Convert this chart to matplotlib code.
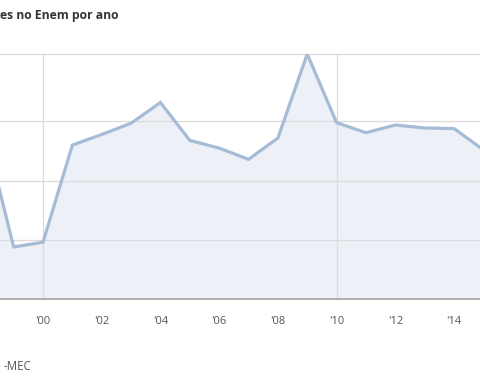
import matplotlib
matplotlib.use('Agg')
import matplotlib.pyplot as plt

years = [1998, 1999, 2000, 2001, 2002, 2003, 2004, 2005, 2006, 2007,
         2008, 2009, 2010, 2011, 2012, 2013, 2014, 2015]
values = [28.8, 8.8, 9.6, 26.0, 27.8, 29.7, 33.2, 26.8, 25.5, 23.6,
          27.2, 41.4, 29.8, 28.1, 29.4, 28.9, 28.8, 25.2]
tick_years = [2000, 2002, 2004, 2006, 2008, 2010, 2012, 2014]
tick_labels = ["'00", "'02", "'04", "'06", "'08", "'10", "'12", "'14"]

plt.rcParams['font.family'] = ['Open Sans', 'DejaVu Sans']

fig = plt.figure(figsize=(4.8, 3.83), dpi=100)
# plot area runs past the left and right edges of the picture
ax = fig.add_axes([0, 84/383, 1, 245/383])

ax.fill_between(years, values, 0, color='#edf0f6', zorder=1)
ax.plot(years, values, color='#a6bcd6', lw=2.3, zorder=3, solid_joinstyle='miter')

ax.set_xlim(2000 - 43/29.36, 2000 + 437/29.36)
ax.set_ylim(0, max(values))

for v in [10, 20, 30]:
    ax.axhline(v, color='#dcdcdc', lw=0.9, zorder=2)
for yr in [2000, 2010]:
    ax.axvline(yr, color='#dcdcdc', lw=0.9, zorder=2)

for s in ['left', 'right', 'bottom']:
    ax.spines[s].set_visible(False)
ax.spines['top'].set_color('#dcdcdc')
ax.spines['top'].set_linewidth(0.9)
ax.axhline(0, color='#a8a8a8', lw=1.3, zorder=4, clip_on=False)

ax.set_xticks(tick_years)
ax.set_xticklabels(tick_labels, fontsize=8, color='#555555')
ax.tick_params(axis='x', length=0, pad=12)
ax.set_yticks([])

fig.text(0.5/480, 1 - 15/383, 'es no Enem por ano', ha='left', va='center',
         fontsize=8.7, fontweight='bold', color='#333333')
fig.text(4/480, 1 - 366/383, '-MEC', ha='left', va='center',
         fontsize=8.3, color='#555555')

fig.savefig('out.png', dpi=100)
